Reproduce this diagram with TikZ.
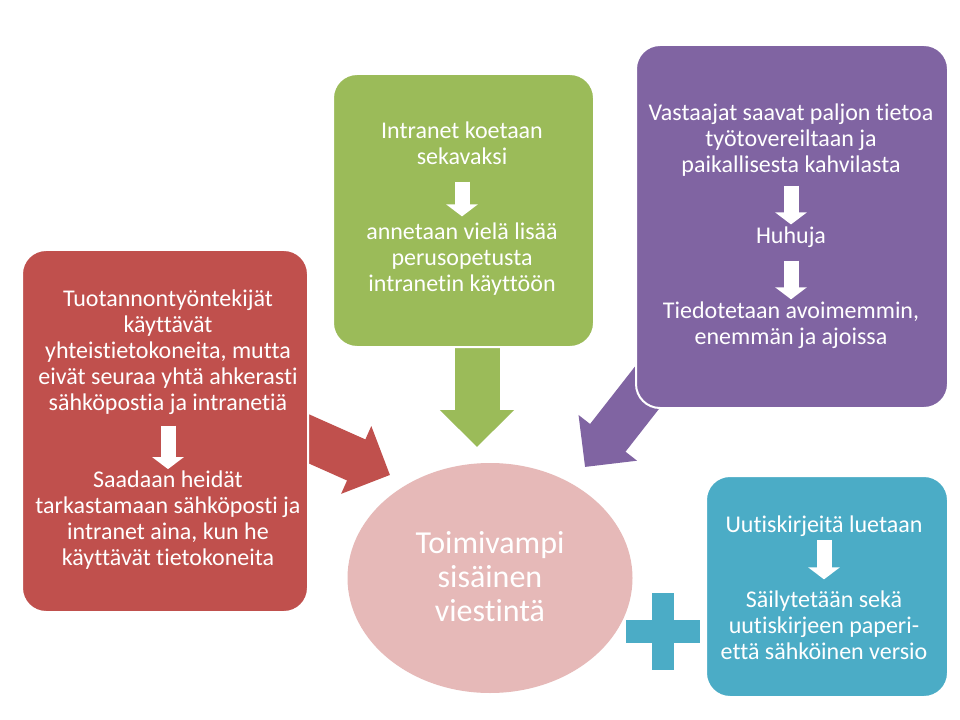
\documentclass[tikz,border=0pt]{standalone}
\usepackage{fontspec}
\setmainfont{Carlito}[Ligatures=NoCommon]
\usetikzlibrary{arrows.meta,shapes.geometric,fit}

\definecolor{boxred}{HTML}{C0504D}
\definecolor{boxgreen}{HTML}{9BBB59}
\definecolor{boxpurple}{HTML}{8064A2}
\definecolor{boxteal}{HTML}{4BACC6}
\definecolor{goalpink}{HTML}{E6B9B8}

\begin{document}
\begin{tikzpicture}[
  x=0.75pt, y=-0.75pt,
  font=\fontsize{18}{19.5}\selectfont,
  box/.style={rectangle,rounded corners=18pt,draw=white,line width=1.5pt,fill=#1,inner sep=0},
  txt/.style={text=white,align=center,inner sep=0},
  bigarrow/.style={#1,line width=33.75pt,-{Triangle[width=54pt,length=27.75pt]}},
  down/.style={white,line width=11.25pt,-{Triangle[width=23.25pt,length=9pt]}},
]
  \useasboundingbox[fill=white] (0,0) rectangle (960,720);

  % ends of the big arrows
  \coordinate (redfrom) at (298.6,434.3);
  \coordinate (redtip) at (390,475);
  \coordinate (greenfrom) at (477,330);
  \coordinate (greentip) at (477,447);
  \coordinate (purplefrom) at (653,380);
  \coordinate (purpletip) at (585,467);

  \draw[bigarrow=boxred] (redfrom) -- (redtip);
  \draw[bigarrow=boxgreen] (greenfrom) -- (greentip);
  \draw[bigarrow=boxpurple] (purplefrom) -- (purpletip);

  % boxes
  \node[box=boxred, fit={(22,250) (308,612)}] (prod) {};
  \node[box=boxgreen, fit={(333,74) (594,347)}] (intra) {};
  \node[box=boxpurple, fit={(636,45) (948,408)}] (rumor) {};
  \node[box=boxteal, fit={(706,476) (948,697)}] (news) {};

  \node[ellipse, fill=goalpink, minimum width=285*0.75pt, minimum height=230*0.75pt] (goal) at (490,578) {};
  \node[txt, font=\fontsize{24}{25.5}\selectfont] (goaltext) at (490,576.5) {Toimivampi\\sisäinen\\viestintä};

  % plus sign
  \fill[boxteal] (652,593) rectangle (674,670);
  \fill[boxteal] (626,620) rectangle (700,643);

  % texts in the boxes
  \node[txt] (prod1) at (168,352.6) {Tuotannontyöntekijät\\käyttävät\\yhteistietokoneita, mutta\\eivät seuraa yhtä ahkerasti\\sähköpostia ja intranetiä};
  \node[txt] (prod2) at (168,519.6) {Saadaan heidät\\tarkastamaan sähköposti ja\\intranet aina, kun he\\käyttävät tietokoneita};
  \draw[down, shorten <=7.8pt, shorten >=0.7pt] (prod1.south) -- (prod2.north);

  \node[txt] (intra1) at (462,143.6) {Intranet koetaan\\sekavaksi};
  \node[txt] (intra2) at (462,259.6) {annetaan vielä lisää\\perusopetusta\\intranetin käyttöön};
  \draw[down, shorten <=12.3pt, shorten >=5pt] (intra1.south) -- (intra2.north);

  \node[txt] (rumor1) at (791,140.5) {Vastaajat saavat paljon tietoa\\työtovereiltaan ja\\paikallisesta kahvilasta};
  \node[txt] (rumor2) at (791,237.5) {Huhuja};
  \node[txt] (rumor3) at (791,325) {Tiedotetaan avoimemmin,\\enemmän ja ajoissa};
  \draw[down, shorten <=6.4pt, shorten >=1.8pt] (rumor1.south) -- (rumor2.north);
  \draw[down, shorten <=9.4pt, shorten >=1.5pt] (rumor2.south) -- (rumor3.north);

  \node[txt] (news1) at (824,526) {Uutiskirjeitä luetaan};
  \node[txt] (news2) at (824,625) {Säilytetään sekä\\uutiskirjeen paperi-\\että sähköinen versio};
  \draw[down, shorten <=2.5pt, shorten >=8.2pt] (news1.south) -- (news2.north);
\end{tikzpicture}
\end{document}
